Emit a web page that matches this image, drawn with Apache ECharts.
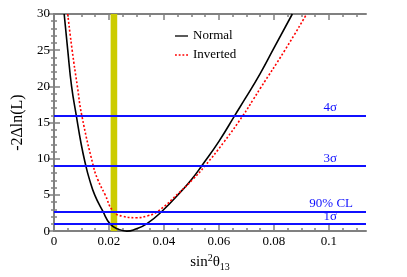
<!DOCTYPE html>
<html><head><meta charset="utf-8">
<script src="https://cdn.jsdelivr.net/npm/echarts@6/dist/echarts.min.js"></script>
<style>html,body{margin:0;padding:0;background:#fff}#c{width:407px;height:277px}</style>
</head><body><div id="c"></div>
<script>
var normalX = [0.0037, 0.0050, 0.0064, 0.0081, 0.0099, 0.0116, 0.0129, 0.0148, 0.0178, 0.0204, 0.0235, 0.0265, 0.0295, 0.0337, 0.0392, 0.047, 0.0501, 0.0537, 0.06, 0.0658, 0.0697, 0.0749, 0.0796, 0.0867];
var normalY = [30, 25, 20, 16, 12, 9, 7.15, 5, 2.71, 1, 0.25, 0, 0.25, 1, 2.71, 5.8, 7.15, 9, 12.4, 16, 18.4, 21.7, 25, 30];
var invertedX = [0.005, 0.0066, 0.0085, 0.0101, 0.0143, 0.0159, 0.0185, 0.0216, 0.025, 0.030, 0.034, 0.0377, 0.0455, 0.0505, 0.0549, 0.062, 0.0688, 0.0725, 0.075, 0.084, 0.0919];
var invertedY = [30, 25, 20, 16, 9, 7.15, 5.1, 2.71, 2.05, 1.85, 2.1, 2.71, 5.3, 7.15, 9, 12.4, 16, 18.2, 19.7, 25, 30];
var clLevels = [1, 2.71, 9, 16];
var clLabels = ['1σ', '90% CL', '3σ', '4σ'];
var bandRange = [0.0206, 0.0230];
var xMajorTicks = [0, 0.02, 0.04, 0.06, 0.08, 0.1];
var xMinorTicks = [0.005, 0.01, 0.015, 0.025, 0.03, 0.035, 0.045, 0.05, 0.055, 0.065, 0.07, 0.075, 0.085, 0.09, 0.095, 0.105, 0.11];
var seriesNames = ['Normal', 'Inverted'];

var FONT = "'Liberation Serif', 'DejaVu Serif', serif";
var AX = '#808080';
var XMAX = 0.1135;

function zip(a, b) { return a.map(function (v, i) { return [v, b[i]]; }); }

function xAx(pos, major, showLabel) {
  return {
    type: 'value', position: pos, min: 0, max: XMAX, interval: 0.02,
    axisLine: { show: major, lineStyle: { color: AX, width: 2 } },
    axisTick: { show: true, inside: true, length: major ? 6 : 3, customValues: major ? xMajorTicks : xMinorTicks, lineStyle: { color: AX, width: 1.5 } },
    axisLabel: { show: showLabel, customValues: xMajorTicks, color: '#000', fontFamily: FONT, fontSize: 13, margin: 4 },
    splitLine: { show: false },
    name: showLabel ? '{a|sin}{sup|2}{a|θ}{sub|13}' : '',
    nameLocation: 'middle', nameGap: 17,
    nameTextStyle: { color: '#000', fontFamily: FONT, fontSize: 15,
      rich: { a: { fontFamily: FONT, fontSize: 15, color: '#000' },
              sup: { fontFamily: FONT, fontSize: 10, color: '#000', padding: [0, 0, 9, 0] },
              sub: { fontFamily: FONT, fontSize: 10, color: '#000', padding: [9, 0, 0, 0] } } }
  };
}
function yAx(pos, showLabel) {
  return {
    type: 'value', position: pos, min: 0, max: 30, interval: 5,
    axisLine: { show: true, lineStyle: { color: AX, width: 2 } },
    axisTick: { show: true, inside: true, length: 6, lineStyle: { color: AX, width: 1.5 } },
    minorTick: { show: true, splitNumber: 5, length: 3, lineStyle: { color: AX, width: 1.5 } },
    axisLabel: { show: showLabel, color: '#000', fontFamily: FONT, fontSize: 13, margin: 4 },
    splitLine: { show: false },
    name: showLabel ? '-2Δln(L)' : '', nameLocation: 'middle', nameGap: 19, nameRotate: 90,
    nameTextStyle: { color: '#000', fontFamily: FONT, fontSize: 16 }
  };
}

var solidIcon = 'path://M0,0h14v1.4h-14z';
var dashIcon = 'path://M0,0h2v1.4h-2zM4,0h2v1.4h-2zM8,0h2v1.4h-2zM12,0h2v1.4h-2z';

var chart = echarts.init(document.getElementById('c'), null, { renderer: 'canvas' });
chart.setOption({
  animation: false,
  backgroundColor: '#fff',
  grid: { left: 54, right: 41, top: 14, bottom: 45 },
  xAxis: [xAx('bottom', true, true), xAx('bottom', false, false), xAx('top', true, false), xAx('top', false, false)],
  yAxis: [yAx('left', true), yAx('right', false)],
  legend: {
    data: [{ name: seriesNames[0], icon: solidIcon }, { name: seriesNames[1], icon: dashIcon }],
    orient: 'vertical', left: 175, top: 29, padding: 0, itemWidth: 13, itemHeight: 1.6, itemGap: 5,
    textStyle: { fontFamily: FONT, fontSize: 13, color: '#000', lineHeight: 14 }
  },
  series: [
    {
      type: 'line', name: '', data: [], z: 1,
      markArea: { silent: true, itemStyle: { color: '#cccc00', opacity: 1 }, data: [[{ xAxis: bandRange[0] }, { xAxis: bandRange[1] }]] },
      markLine: {
        silent: true, symbol: 'none', lineStyle: { color: '#1010ff', type: 'solid', width: 2 },
        label: { position: 'insideEndTop', color: '#1010ff', fontFamily: FONT, fontSize: 13 },
        data: clLevels.map(function (v, i) {
          var d = (clLabels[i] === '90% CL') ? 13 : 29;
          return { yAxis: v, label: { formatter: clLabels[i], distance: [d, 1] } };
        })
      }
    },
    { type: 'line', name: seriesNames[0], data: zip(normalX, normalY), showSymbol: false, symbol: 'none', smooth: 0.5, clip: true, z: 3,
      lineStyle: { color: '#000', width: 1.6 }, itemStyle: { color: '#000' } },
    { type: 'line', name: seriesNames[1], data: zip(invertedX, invertedY), showSymbol: false, symbol: 'none', smooth: 0.5, clip: true, z: 3,
      lineStyle: { color: '#ff0000', width: 1.6, type: [2, 2] }, itemStyle: { color: '#ff0000' } }
  ]
});
</script></body></html>
